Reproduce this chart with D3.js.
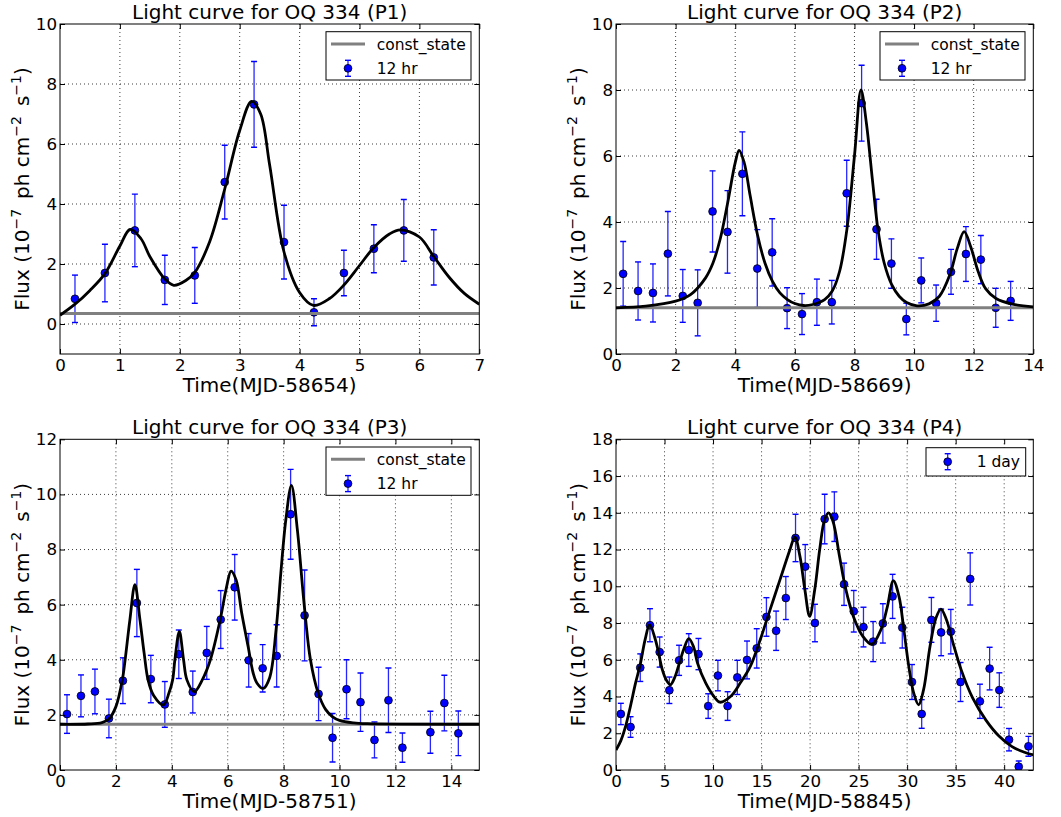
<!DOCTYPE html>
<html>
<head>
<meta charset="utf-8">
<script src="https://cdn.jsdelivr.net/npm/d3@7"></script>
<style>
  body { margin: 0; background: #fff; }
  svg { display: block; }
  text { font-family: "DejaVu Sans", sans-serif; fill: #000; }
</style>
</head>
<body>
<svg id="fig" width="1061" height="817"></svg>
<script>
// ---- Period P1 (MJD-58654), 12 hr bins ----
const p1Time = [0.25, 0.75, 1.25, 1.75, 2.25, 2.75, 3.24, 3.74, 4.24, 4.74, 5.24, 5.74, 6.24];
const p1Flux = [0.84, 1.70, 3.12, 1.47, 1.62, 4.73, 7.32, 2.73, 0.39, 1.70, 2.51, 3.12, 2.22];
const p1Err  = [0.79, 0.96, 1.21, 0.82, 0.93, 1.23, 1.43, 1.23, 0.45, 0.76, 0.80, 1.03, 0.92];
const p1Const = 0.35;
const p1FitTime = [0, 0.25, 0.5, 0.75, 1.0, 1.17, 1.35, 1.5, 1.75, 1.9, 2.1, 2.25, 2.5, 2.75, 3.0, 3.2, 3.35, 3.5, 3.74, 4.0, 4.23, 4.5, 4.74, 5.0, 5.24, 5.5, 5.68, 6.0, 6.24, 6.5, 6.75, 7.0];
const p1FitFlux = [0.29, 0.66, 1.12, 1.68, 2.6, 3.15, 2.85, 2.25, 1.5, 1.29, 1.45, 1.72, 2.75, 4.5, 6.45, 7.42, 7.0, 5.3, 2.4, 1.05, 0.62, 0.85, 1.3, 1.95, 2.55, 3.0, 3.14, 2.9, 2.25, 1.55, 1.02, 0.66];

// ---- Period P2 (MJD-58669), 12 hr bins ----
const p2Time = [0.24, 0.74, 1.24, 1.74, 2.24, 2.74, 3.24, 3.74, 4.24, 4.74, 5.24, 5.74, 6.24, 6.74, 7.24, 7.74, 8.24, 8.74, 9.24, 9.74, 10.24, 10.74, 11.24, 11.74, 12.24, 12.74, 13.24];
const p2Flux = [2.43, 1.91, 1.85, 3.04, 1.76, 1.55, 4.32, 3.70, 5.46, 2.59, 3.08, 1.39, 1.21, 1.57, 1.57, 4.87, 7.60, 3.78, 2.74, 1.06, 2.23, 1.54, 2.49, 3.03, 2.86, 1.40, 1.61];
const p2Err  = [0.98, 0.88, 0.88, 1.28, 0.80, 1.00, 1.23, 1.25, 1.27, 1.18, 1.02, 0.62, 0.62, 0.70, 0.66, 1.00, 1.15, 0.91, 0.75, 0.48, 0.68, 0.55, 0.68, 0.83, 0.73, 0.59, 0.59];
const p2Const = 1.40;
const p2FitTime = [0, 1, 2, 2.5, 3.0, 3.25, 3.5, 3.75, 4.0, 4.13, 4.3, 4.5, 4.75, 5.0, 5.25, 5.5, 5.75, 6.0, 6.3, 6.6, 7.0, 7.25, 7.5, 7.75, 8.0, 8.22, 8.4, 8.6, 8.8, 9.0, 9.25, 9.5, 9.75, 10.1, 10.5, 10.85, 11.2, 11.45, 11.68, 11.9, 12.15, 12.4, 12.75, 13.3, 14];
const p2FitFlux = [1.40, 1.45, 1.6, 1.8, 2.3, 2.75, 3.5, 4.6, 5.8, 6.17, 5.8, 4.8, 3.6, 2.75, 2.2, 1.85, 1.65, 1.53, 1.47, 1.5, 1.65, 1.9, 2.5, 3.8, 6.0, 8.0, 7.0, 5.3, 3.7, 2.75, 2.1, 1.75, 1.56, 1.46, 1.52, 1.75, 2.4, 3.2, 3.71, 3.25, 2.5, 1.98, 1.68, 1.51, 1.43];

// ---- Period P3 (MJD-58751), 12 hr bins ----
const p3Time = [0.25, 0.75, 1.25, 1.75, 2.25, 2.75, 3.25, 3.75, 4.25, 4.75, 5.25, 5.75, 6.25, 6.75, 7.25, 7.75, 8.25, 8.75, 9.25, 9.75, 10.25, 10.75, 11.25, 11.75, 12.25, 13.25, 13.75, 14.25];
const p3Flux = [2.03, 2.69, 2.85, 1.87, 3.24, 6.06, 3.30, 2.38, 4.20, 2.83, 4.25, 5.46, 6.63, 3.98, 3.69, 4.14, 9.28, 5.61, 2.76, 1.17, 2.93, 2.46, 1.09, 2.53, 0.81, 1.37, 2.43, 1.33];
const p3Err  = [0.70, 0.76, 0.81, 0.70, 0.83, 1.22, 0.86, 0.83, 0.88, 0.76, 0.96, 1.05, 1.19, 0.97, 0.86, 1.13, 1.63, 1.65, 0.97, 0.88, 1.07, 1.06, 0.65, 1.17, 0.53, 0.76, 1.01, 0.81];
const p3Const = 1.66;
const p3FitTime = [0, 1.0, 1.5, 1.75, 2.0, 2.23, 2.33, 2.5, 2.68, 2.86, 3.01, 3.15, 3.35, 3.7, 3.9, 4.03, 4.11, 4.27, 4.42, 4.54, 4.8, 5.09, 5.38, 5.73, 5.95, 6.12, 6.3, 6.5, 6.73, 6.91, 7.05, 7.27, 7.5, 7.73, 7.9, 8.08, 8.28, 8.49, 8.73, 8.96, 9.24, 9.5, 9.74, 10.0, 10.5, 11.0, 15];
const p3FitFlux = [1.66, 1.67, 1.72, 1.85, 2.3, 3.27, 4.0, 5.45, 6.73, 5.45, 4.24, 3.27, 2.7, 2.36, 2.8, 3.27, 4.0, 5.03, 4.0, 3.27, 2.84, 3.27, 4.0, 5.45, 6.6, 7.22, 6.9, 5.7, 4.48, 3.52, 3.15, 2.96, 3.35, 5.09, 7.15, 9.09, 10.33, 8.73, 6.06, 4.0, 2.78, 2.2, 1.94, 1.8, 1.71, 1.68, 1.66];

// ---- Period P4 (MJD-58845), 1 day bins ----
const p4Time = [0.5, 1.5, 2.5, 3.5, 4.5, 5.5, 6.5, 7.5, 8.5, 9.5, 10.5, 11.5, 12.5, 13.5, 14.5, 15.5, 16.5, 17.5, 18.5, 19.5, 20.5, 21.5, 22.5, 23.5, 24.5, 25.5, 26.5, 27.5, 28.5, 29.5, 30.5, 31.5, 32.5, 33.5, 34.5, 35.5, 36.5, 37.5, 38.5, 39.5, 40.5, 41.5, 42.5];
const p4Flux = [3.05, 2.34, 5.57, 7.88, 6.42, 4.34, 5.97, 6.53, 6.31, 3.48, 5.14, 3.48, 5.04, 5.99, 6.62, 8.33, 7.58, 9.36, 12.63, 11.07, 8.00, 13.66, 13.79, 10.11, 8.64, 7.78, 6.99, 7.98, 9.45, 7.75, 4.79, 3.05, 8.17, 7.49, 7.53, 4.79, 10.40, 3.74, 5.52, 4.35, 1.65, 0.18, 1.29];
const p4Err  = [0.58, 0.56, 0.75, 0.90, 0.82, 0.72, 0.82, 0.89, 0.85, 0.67, 0.83, 0.78, 0.93, 1.03, 1.07, 1.05, 1.07, 1.17, 1.29, 1.20, 1.02, 1.35, 1.35, 1.15, 1.13, 1.08, 1.09, 1.07, 1.20, 1.11, 0.95, 0.78, 1.22, 1.27, 1.21, 1.06, 1.42, 0.93, 1.16, 0.94, 0.61, 0.31, 0.54];
const p4FitTime = [0, 0.5, 1.0, 1.5, 2.0, 2.5, 3.0, 3.47, 4.0, 4.32, 4.75, 5.17, 5.6, 6.1, 6.53, 7.0, 7.5, 8.0, 8.4, 9.25, 10.1, 10.7, 11.8, 12.8, 13.84, 14.86, 15.88, 16.9, 17.93, 18.43, 18.95, 19.46, 19.95, 20.48, 20.99, 21.5, 21.9, 22.35, 23.03, 23.65, 24.5, 25.44, 26.35, 27.3, 27.97, 28.58, 29.16, 29.66, 30.17, 30.68, 31.18, 31.69, 32.36, 32.97, 33.48, 34.05, 34.73, 35.57, 36.76, 38.1, 39.46, 40.81, 42.16, 43];
const p4FitFlux = [1.09, 1.6, 2.4, 3.5, 4.7, 5.75, 7.1, 7.91, 7.2, 6.55, 5.5, 4.91, 4.64, 5.1, 5.82, 6.6, 7.15, 6.7, 5.82, 4.73, 4.0, 3.69, 4.0, 4.73, 5.64, 7.09, 8.73, 10.36, 12.0, 12.69, 11.64, 9.82, 8.36, 9.82, 12.0, 13.64, 14.0, 13.55, 11.64, 9.9, 8.3, 7.27, 6.84, 7.64, 8.91, 10.31, 9.45, 7.64, 5.64, 4.18, 3.55, 4.36, 6.73, 8.27, 8.76, 8.18, 6.91, 5.45, 3.91, 2.73, 1.85, 1.27, 0.95, 0.82];

// ---- Axis ticks ----
const p1XTicks = [0, 1, 2, 3, 4, 5, 6, 7];
const p1YTicks = [0, 2, 4, 6, 8, 10];
const p2XTicks = [0, 2, 4, 6, 8, 10, 12, 14];
const p2YTicks = [0, 2, 4, 6, 8, 10];
const p3XTicks = [0, 2, 4, 6, 8, 10, 12, 14];
const p3YTicks = [0, 2, 4, 6, 8, 10, 12];
const p4XTicks = [0, 5, 10, 15, 20, 25, 30, 35, 40];
const p4YTicks = [0, 2, 4, 6, 8, 10, 12, 14, 16, 18];

const zip = (t, f, e) => t.map((d, i) => ({ t: d, f: f[i], e: e ? e[i] : 0 }));

const panels = [
  { id: "p1", title: "Light curve for OQ 334 (P1)", xlabel: "Time(MJD-58654)",
    box: [60, 24, 479.3, 354], xDomain: [0, 7], yDomain: [-1, 10],
    xTicks: p1XTicks, yTicks: p1YTicks,
    points: zip(p1Time, p1Flux, p1Err), fit: zip(p1FitTime, p1FitFlux),
    constLevel: p1Const, binLabel: "12 hr" },
  { id: "p2", title: "Light curve for OQ 334 (P2)", xlabel: "Time(MJD-58669)",
    box: [616, 24, 1033.3, 354], xDomain: [0, 14], yDomain: [0, 10],
    xTicks: p2XTicks, yTicks: p2YTicks,
    points: zip(p2Time, p2Flux, p2Err), fit: zip(p2FitTime, p2FitFlux),
    constLevel: p2Const, binLabel: "12 hr" },
  { id: "p3", title: "Light curve for OQ 334 (P3)", xlabel: "Time(MJD-58751)",
    box: [60, 439.3, 479.3, 770], xDomain: [0, 15], yDomain: [0, 12],
    xTicks: p3XTicks, yTicks: p3YTicks,
    points: zip(p3Time, p3Flux, p3Err), fit: zip(p3FitTime, p3FitFlux),
    constLevel: p3Const, binLabel: "12 hr" },
  { id: "p4", title: "Light curve for OQ 334 (P4)", xlabel: "Time(MJD-58845)",
    box: [616, 439.3, 1033.3, 770], xDomain: [0, 43], yDomain: [0, 18],
    xTicks: p4XTicks, yTicks: p4YTicks,
    points: zip(p4Time, p4Flux, p4Err), fit: zip(p4FitTime, p4FitFlux),
    constLevel: null, binLabel: "1 day" }
];

const svg = d3.select("#fig");
svg.append("rect").attr("width", 1061).attr("height", 817).attr("fill", "#fff");

const TICK_FONT = 16.7, LABEL_FONT = 20, LEGEND_FONT = 15.5;
const PT_COLOR = "#0000ff";

function drawErrorMarker(g, cx, cy, yTop, yBot) {
  g.append("line").attr("x1", cx).attr("x2", cx).attr("y1", yTop).attr("y2", yBot)
    .attr("stroke", PT_COLOR).attr("stroke-width", 1.3).attr("stroke-opacity", 0.85);
  [yTop, yBot].forEach(yy => g.append("line")
    .attr("x1", cx - 3).attr("x2", cx + 3).attr("y1", yy).attr("y2", yy)
    .attr("stroke", PT_COLOR).attr("stroke-width", 1.4));
  g.append("circle").attr("cx", cx).attr("cy", cy).attr("r", 3.9)
    .attr("fill", PT_COLOR).attr("stroke", "#000").attr("stroke-width", 0.8);
}

panels.forEach(p => {
  const [L, T, R, B] = p.box;
  const x = d3.scaleLinear().domain(p.xDomain).range([L, R]);
  const y = d3.scaleLinear().domain(p.yDomain).range([B, T]);
  const g = svg.append("g").attr("class", "panel " + p.id);

  g.append("clipPath").attr("id", "clip-" + p.id)
    .append("rect").attr("x", L).attr("y", T).attr("width", R - L).attr("height", B - T);

  // dotted grid
  const grid = g.append("g").attr("stroke", "#000").attr("stroke-width", 0.9)
    .attr("stroke-dasharray", "1,3").attr("stroke-opacity", 0.85);
  p.xTicks.filter(v => v > p.xDomain[0] && v < p.xDomain[1]).forEach(v =>
    grid.append("line").attr("x1", x(v)).attr("x2", x(v)).attr("y1", T).attr("y2", B));
  p.yTicks.filter(v => v > p.yDomain[0] && v < p.yDomain[1]).forEach(v =>
    grid.append("line").attr("x1", L).attr("x2", R).attr("y1", y(v)).attr("y2", y(v)));

  const plot = g.append("g").attr("clip-path", `url(#clip-${p.id})`);

  // data points with error bars
  p.points.forEach(d => drawErrorMarker(plot, x(d.t), y(d.f), y(d.f + d.e), y(d.f - d.e)));

  // constant (quiescent) level
  if (p.constLevel !== null) {
    plot.append("line").attr("x1", L).attr("x2", R)
      .attr("y1", y(p.constLevel)).attr("y2", y(p.constLevel))
      .attr("stroke", "#808080").attr("stroke-width", 3);
  }

  // fitted flare profile
  const line = d3.line().x(d => x(d.t)).y(d => y(d.f)).curve(d3.curveCatmullRom.alpha(0.5));
  plot.append("path").datum(p.fit).attr("d", line)
    .attr("fill", "none").attr("stroke", "#000").attr("stroke-width", 2.8)
    .attr("stroke-linejoin", "round");

  // frame
  g.append("rect").attr("x", L).attr("y", T).attr("width", R - L).attr("height", B - T)
    .attr("fill", "none").attr("stroke", "#000").attr("stroke-width", 1);

  // axes (inward ticks on all four sides)
  const styleAxis = sel => {
    sel.select(".domain").remove();
    sel.selectAll(".tick line").attr("stroke", "#000").attr("stroke-width", 1);
    sel.selectAll(".tick text").attr("font-size", TICK_FONT).attr("font-family", "DejaVu Sans");
  };
  g.append("g").attr("transform", `translate(0,${B})`)
    .call(d3.axisBottom(x).tickValues(p.xTicks).tickFormat(d3.format("d")).tickSize(-5).tickPadding(5))
    .call(styleAxis);
  g.append("g").attr("transform", `translate(0,${T})`)
    .call(d3.axisTop(x).tickValues(p.xTicks).tickFormat("").tickSize(-5))
    .call(styleAxis);
  g.append("g").attr("transform", `translate(${L},0)`)
    .call(d3.axisLeft(y).tickValues(p.yTicks).tickFormat(d3.format("d")).tickSize(-5).tickPadding(3))
    .call(styleAxis);
  g.append("g").attr("transform", `translate(${R},0)`)
    .call(d3.axisRight(y).tickValues(p.yTicks).tickFormat("").tickSize(-5))
    .call(styleAxis);

  // title and axis labels
  g.append("text").attr("x", (L + R) / 2).attr("y", T - 5).attr("text-anchor", "middle")
    .attr("font-size", LABEL_FONT).text(p.title);
  g.append("text").attr("x", (L + R) / 2).attr("y", B + 38).attr("text-anchor", "middle")
    .attr("font-size", LABEL_FONT).text(p.xlabel);

  const yl = g.append("text")
    .attr("transform", `translate(${L - 31},${(T + B) / 2}) rotate(-90)`)
    .attr("text-anchor", "middle").attr("font-size", LABEL_FONT);
  const sup = (s) => yl.append("tspan").attr("font-size", LABEL_FONT * 0.7).attr("dy", -8).text(s);
  const base = (s) => yl.append("tspan").attr("font-size", LABEL_FONT).attr("dy", 8).text(s);
  yl.append("tspan").text("Flux (10");
  sup("\u22127");
  base("\u2002ph cm");
  sup("\u22122");
  base("\u2002s");
  sup("\u22121");
  base(")");

  // legend
  const lg = g.append("g");
  if (p.constLevel !== null) {
    const bw = 145, bh = 48.3, bx = R - 8.3 - bw, by = T + 7.7;
    lg.append("rect").attr("x", bx).attr("y", by).attr("width", bw).attr("height", bh)
      .attr("fill", "#fff").attr("stroke", "#000").attr("stroke-width", 1);
    lg.append("line").attr("x1", bx + 5).attr("x2", bx + 39).attr("y1", by + 12.3).attr("y2", by + 12.3)
      .attr("stroke", "#808080").attr("stroke-width", 3);
    lg.append("text").attr("x", bx + 50.7).attr("y", by + 12.3).attr("dy", "0.36em")
      .attr("font-size", LEGEND_FONT).text("const_state");
    drawErrorMarker(lg, bx + 22, by + 36.6, by + 28.6, by + 44.6);
    lg.append("text").attr("x", bx + 50.7).attr("y", by + 36.6).attr("dy", "0.36em")
      .attr("font-size", LEGEND_FONT).text(p.binLabel);
  } else {
    const bw = 99.7, bh = 28.3, bx = R - 7.6 - bw, by = T + 8.4;
    lg.append("rect").attr("x", bx).attr("y", by).attr("width", bw).attr("height", bh)
      .attr("fill", "#fff").attr("stroke", "#000").attr("stroke-width", 1);
    drawErrorMarker(lg, bx + 21.7, by + 14, by + 6, by + 22);
    lg.append("text").attr("x", bx + 50.7).attr("y", by + 14).attr("dy", "0.36em")
      .attr("font-size", LEGEND_FONT).text(p.binLabel);
  }
});
</script>
</body>
</html>
